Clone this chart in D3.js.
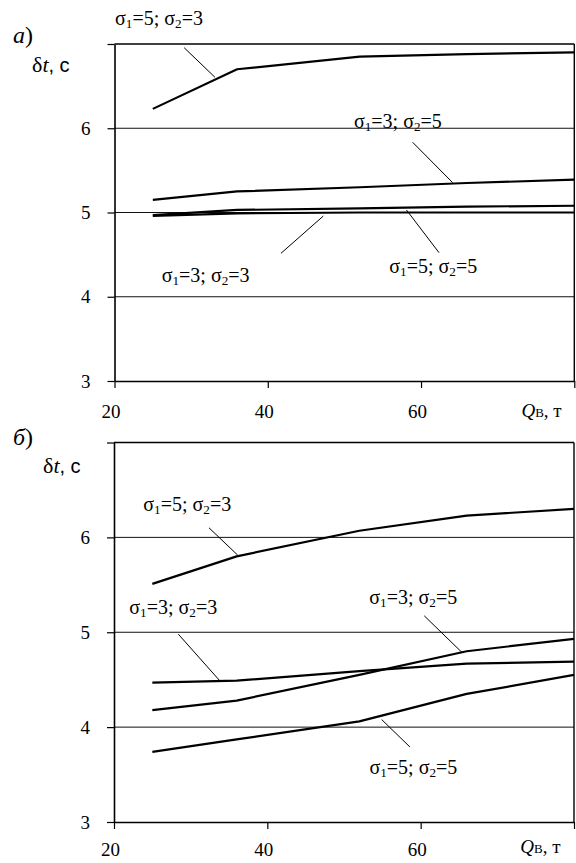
<!DOCTYPE html>
<html><head><meta charset="utf-8">
<script src="https://cdn.jsdelivr.net/npm/d3@7"></script>
<style>
body{margin:0;background:#fff} svg{display:block}
.serif{font-family:"Liberation Serif","Times New Roman","DejaVu Serif",serif}
.sans{font-family:"Liberation Sans",Arial,sans-serif}
</style>
</head><body><svg id="c" width="576" height="863"></svg>
<script>
// ---- data ----
const qValues = [25, 36, 52, 66, 80];
const xTicks = [20, 40, 60, 80];
const xTickLabels = ["20", "40", "60", ""];
const yTicks = [3, 4, 5, 6, 7];
const yTickLabels = ["3", "4", "5", "6", ""];
const gridValues = [4, 5, 6];

// panel а)
const aS53 = [6.23, 6.70, 6.85, 6.88, 6.90];
const aS35 = [5.15, 5.25, 5.30, 5.35, 5.39];
const aS55 = [4.97, 5.03, 5.05, 5.07, 5.08];
const aS33 = [4.96, 4.99, 5.00, 5.00, 5.00];
// panel б)
const bS53 = [5.51, 5.80, 6.07, 6.23, 6.30];
const bS33 = [4.47, 4.49, 4.59, 4.67, 4.69];
const bS35 = [4.18, 4.28, 4.55, 4.80, 4.93];
const bS55 = [3.74, 3.87, 4.06, 4.35, 4.55];

const LABEL_FS = 20;

const svg = d3.select('#c');

function sigmaLabel(g, xp, yp, s1, s2) {
  const t = g.append('text').attr('class', 'serif').attr('x', xp).attr('y', yp)
    .style('font-size', LABEL_FS + 'px').attr('fill', '#000');
  t.append('tspan').text('σ');
  t.append('tspan').style('font-size', (LABEL_FS * 0.66) + 'px').attr('dy', 3).text('1');
  t.append('tspan').attr('dy', -3).text('=' + s1 + '; σ');
  t.append('tspan').style('font-size', (LABEL_FS * 0.66) + 'px').attr('dy', 3).text('2');
  t.append('tspan').attr('dy', -3).text('=' + s2);
}

function drawPanel(cfg) {
  const x = d3.scaleLinear().domain([20, 80]).range([cfg.left, cfg.right]);
  const y = d3.scaleLinear().domain([3, 7]).range([cfg.bottom, cfg.top]);
  const g = svg.append('g');

  // grid
  g.selectAll('line.grid').data(gridValues).join('line').attr('class', 'grid')
    .attr('x1', x(20)).attr('x2', x(80))
    .attr('y1', d => y(d)).attr('y2', d => y(d))
    .attr('stroke', '#111').attr('stroke-width', 1);

  // frame top & right
  g.append('line').attr('x1', x(20)).attr('x2', x(80)).attr('y1', y(7)).attr('y2', y(7))
    .attr('stroke', '#000').attr('stroke-width', 1.6);
  g.append('line').attr('x1', x(80)).attr('x2', x(80)).attr('y1', y(7)).attr('y2', y(3))
    .attr('stroke', '#000').attr('stroke-width', 1.4);

  // y axis
  const ya = g.append('g').attr('transform', `translate(${x(20)},0)`)
    .call(d3.axisLeft(y).tickValues(yTicks).tickSizeInner(7).tickSizeOuter(0).tickPadding(17)
      .tickFormat((d, i) => yTickLabels[i]));
  ya.attr('font-family', null).attr('font-size', null);
  ya.select('.domain').attr('stroke-width', 1.6);
  ya.selectAll('.tick line').attr('stroke-width', 1.2);
  ya.selectAll('.tick text').attr('class', 'serif').style('font-size', '19px').attr('fill', '#000');

  // x axis
  const xa = g.append('g').attr('transform', `translate(0,${y(3)})`)
    .call(d3.axisBottom(x).tickValues(xTicks).tickSizeInner(7).tickSizeOuter(0).tickPadding(cfg.xPad)
      .tickFormat((d, i) => xTickLabels[i]));
  xa.attr('font-family', null).attr('font-size', null);
  xa.select('.domain').attr('stroke-width', 1.6);
  xa.selectAll('.tick line').attr('stroke-width', 1.2);
  xa.selectAll('.tick text').attr('class', 'serif').style('font-size', '19px').attr('fill', '#000').attr('dx', -4);

  // x axis title Q_В, т
  const qt = g.append('text').attr('class', 'serif').attr('x', x(cfg.qLabel[0])).attr('y', y(3) + cfg.qLabel[1])
    .style('font-size', '19px').attr('fill', '#000');
  qt.append('tspan').style('font-style', 'italic').text('Q');
  qt.append('tspan').style('font-size', '13px').text('В');
  qt.append('tspan').text(', т');

  // y axis title δt, с
  const yt = g.append('text').attr('x', cfg.yTitle[0]).attr('y', cfg.yTitle[1])
    .style('font-size', '22px').attr('fill', '#000');
  yt.append('tspan').attr('class', 'serif').text('δ');
  yt.append('tspan').attr('class', 'serif').style('font-style', 'italic').text('t');
  yt.append('tspan').attr('class', 'sans').style('font-size', '20px').text(', с');

  // panel letter
  const pl = g.append('text').attr('class', 'serif').attr('x', cfg.letter[0]).attr('y', cfg.letter[1])
    .style('font-size', '24px').attr('fill', '#000');
  pl.append('tspan').style('font-style', 'italic').text(cfg.letterText);
  pl.append('tspan').text(')');

  // curves
  const line = d3.line().x(d => x(d[0])).y(d => y(d[1]));
  cfg.series.forEach(s => {
    g.append('path').datum(qValues.map((q, i) => [q, s.values[i]]))
      .attr('d', line).attr('fill', 'none').attr('stroke', '#000')
      .attr('stroke-width', 2.2).attr('stroke-linejoin', 'round');
    // leader
    g.append('line').attr('x1', x(s.leader[0])).attr('y1', y(s.leader[1]))
      .attr('x2', x(s.leader[2])).attr('y2', y(s.leader[3]))
      .attr('stroke', '#000').attr('stroke-width', 1);
    sigmaLabel(g, x(s.label[0]), y(s.label[1]), s.s1, s.s2);
  });
}

drawPanel({
  left: 114.5, right: 574.3, top: 44, bottom: 381,
  xPad: 17, qLabel: [73.1, 36], yTitle: [32, 72], letter: [13, 43], letterText: 'а',
  series: [
    { values: aS53, s1: '5', s2: '3', label: [20.07, 7.226], leader: [29.09, 6.956, 33.11, 6.605] },
    { values: aS35, s1: '3', s2: '5', label: [51.25, 6.003], leader: [58.91, 5.833, 64.13, 5.354] },
    { values: aS33, s1: '3', s2: '3', label: [26.16, 4.181], leader: [47.25, 4.958, 41.73, 4.516] },
    { values: aS55, s1: '5', s2: '5', label: [55.86, 4.278], leader: [58.10, 5.030, 62.35, 4.523] }
  ]
});

drawPanel({
  left: 114, right: 574, top: 442.5, bottom: 822,
  xPad: 14, qLabel: [73.0, 31], yTitle: [43, 473], letter: [13, 445], letterText: 'б',
  series: [
    { values: bS53, s1: '5', s2: '3', label: [23.82, 6.277], leader: [32.39, 6.101, 36.13, 5.813] },
    { values: bS33, s1: '3', s2: '3', label: [22.00, 5.193], leader: [28.39, 4.980, 33.73, 4.495] },
    { values: bS35, s1: '3', s2: '5', label: [53.30, 5.296], leader: [60.47, 5.173, 65.39, 4.787] },
    { values: bS55, s1: '5', s2: '5', label: [53.32, 3.510], leader: [54.91, 4.080, 58.60, 3.791] }
  ]
});
</script></body></html>
